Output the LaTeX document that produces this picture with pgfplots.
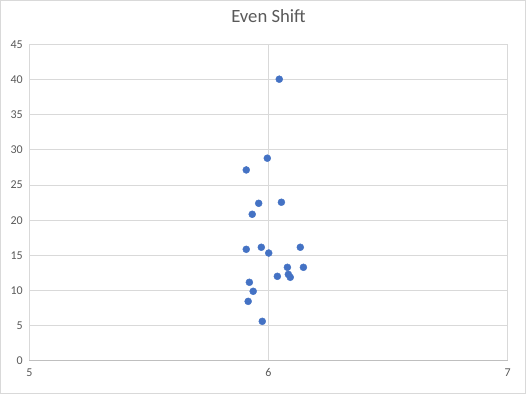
\documentclass[border=0pt]{standalone}
\usepackage{pgfplots}
\pgfplotsset{compat=1.18}
\usepackage{fontspec}
\setmainfont{Carlito}
\definecolor{gridc}{HTML}{D9D9D9}
\definecolor{axc}{HTML}{BFBFBF}
\definecolor{txt}{HTML}{595959}
\definecolor{pt}{HTML}{4472C4}
\begin{document}
\begin{tikzpicture}
\begin{axis}[
  name=ax,
  scale only axis,
  width=479pt, height=317pt,
  xmin=5, xmax=7, ymin=0, ymax=45,
  xtick={5,6,7}, ytick={0,5,...,45},
  grid=major,
  major grid style={gridc, line width=0.75pt},
  axis line style={gridc, line width=0.75pt},
  major tick length=0pt,
  tick label style={font=\fontsize{12}{14}\selectfont, text=txt},
  /pgf/number format/assume math mode=true,
  yticklabel style={xshift=-3pt},
  xticklabel style={yshift=-4pt},
  title={Even Shift},
  title style={at={(0.5,1)}, anchor=center, yshift=22pt, font=\fontsize{18.7}{22}\selectfont, text=txt},
  clip=false,
]
\addplot[only marks, mark=*, mark size=3.5pt, color=pt, mark options={draw=pt, fill=pt}] coordinates {
(6.045,40.04)
(5.995,28.81)
(5.907,27.14)
(5.959,22.40)
(6.054,22.55)
(5.932,20.84)
(5.907,15.86)
(5.970,16.15)
(6.001,15.33)
(6.133,16.15)
(6.079,13.30)
(6.146,13.30)
(6.037,12.02)
(6.083,12.30)
(6.091,11.88)
(5.920,11.17)
(5.936,9.89)
(5.915,8.46)
(5.974,5.62)
};
\end{axis}
\draw[axc, line width=0.75pt] (ax.south west) -- (ax.south east);
\path[draw=gridc, line width=0.75pt] (ax.south west) ++(-29pt,-33pt) rectangle ++(526pt,394pt);
\end{tikzpicture}
\end{document}
